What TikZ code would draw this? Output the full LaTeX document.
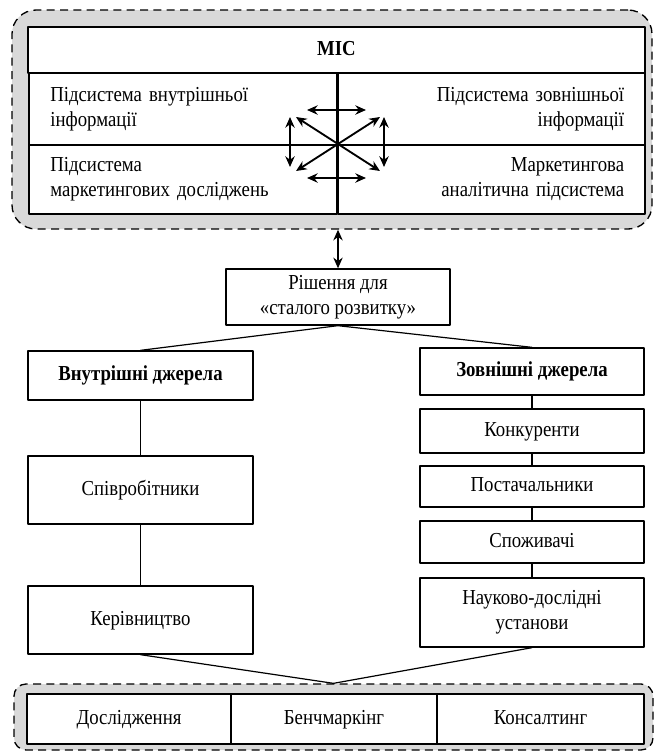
\documentclass[tikz,border=0pt]{standalone}
\usepackage{fontspec}
\setmainfont[FakeStretch=0.88]{Liberation Serif}
\usetikzlibrary{arrows.meta}

\begin{document}
\fontsize{16}{18.75}\selectfont
\begin{tikzpicture}[x=0.75pt,y=-0.75pt,line join=round,
    >={Stealth[length=8pt,width=7pt]},
    box/.style={draw,line width=1pt,fill=white,inner sep=0pt,align=center},
    oneline/.style={box,text height=11.5pt,text depth=4pt},
    cell/.style={box,inner xsep=16pt,text width=199pt},
    frame/.style={draw,line width=1pt,dash pattern=on 6pt off 4pt,fill=black!15},
    link/.style={line width=0.9pt},
    dblarrow/.style={line width=1.4pt,<->}]
  \useasboundingbox (0,0) rectangle (656,751);

  % MIS block
  \node[frame,rounded corners=18pt,minimum width=480pt,minimum height=164.25pt] (mis) at (332,119.5) {};
  \node[oneline,font=\bfseries,minimum width=462.75pt,minimum height=34.5pt] (mic) at (336.5,50) {МІС};
  \node[cell,align=left,minimum height=54pt] (intern) at (183,109) {Підсистема внутрішньої\\інформації};
  \node[cell,align=right,inner xsep=15.6pt,minimum height=54pt] (extern) at (491.5,109) {Підсистема зовнішньої\\інформації};
  \node[cell,align=left,minimum height=51.75pt] (research) at (183,179.5) {Підсистема\\маркетингових досліджень};
  \node[cell,align=right,inner xsep=15.6pt,minimum height=51.75pt] (analytic) at (491.5,179.5) {Маркетингова\\аналітична підсистема};

  \coordinate (hub) at (338,144);
  \draw[dblarrow] ([shift={(-42,-27)}]hub) -- ([shift={(42,27)}]hub);
  \draw[dblarrow] ([shift={(42,-27)}]hub) -- ([shift={(-42,27)}]hub);
  \draw[dblarrow] ([shift={(-31,-34)}]hub) -- ([shift={(28,-34)}]hub);
  \draw[dblarrow] ([shift={(-31,34)}]hub) -- ([shift={(28,34)}]hub);
  \draw[dblarrow] ([shift={(-48,-27)}]hub) -- ([shift={(-48,23)}]hub);
  \draw[dblarrow] ([shift={(46,-27)}]hub) -- ([shift={(46,23)}]hub);

  % sources
  \node[box,minimum width=168pt,minimum height=42pt] (decision) at (338,297) {Рішення для\\«сталого розвитку»};
  \node[oneline,font=\bfseries,minimum width=168.75pt,minimum height=36.75pt] (inner) at (140.5,375.5) {Внутрішні джерела};
  \node[oneline,font=\bfseries,minimum width=168pt,minimum height=35.25pt] (outer) at (532,371.5) {Зовнішні джерела};
  \node[oneline,minimum width=168.75pt,minimum height=51pt] (staff) at (140.5,490) {Співробітники};
  \node[oneline,minimum width=168.75pt,minimum height=51pt] (management) at (140.5,620) {Керівництво};
  \node[oneline,minimum width=168pt,minimum height=33pt] (rivals) at (532,431) {Конкуренти};
  \node[oneline,minimum width=168pt,minimum height=30.75pt] (suppliers) at (532,486.5) {Постачальники};
  \node[oneline,minimum width=168pt,minimum height=31.5pt] (consumers) at (532,542) {Споживачі};
  \node[box,minimum width=168pt,minimum height=51.75pt] (institutes) at (532,612.5) {Науково-дослідні\\установи};

  % results
  \node[frame,rounded corners=9pt,minimum width=479.25pt,minimum height=49.5pt] (res) at (333.5,717) {};
  \node[oneline,minimum width=153pt,minimum height=37.5pt] (study) at (129,719) {Дослідження};
  \node[oneline,minimum width=154.5pt,minimum height=37.5pt] (bench) at (334,719) {Бенчмаркінг};
  \node[oneline,minimum width=155.25pt,minimum height=37.5pt] (consult) at (540.5,719) {Консалтинг};

  \draw[dblarrow] (decision.north |- mis.south) -- (decision.north);
  \draw[link] (inner.north) -- (decision.south) -- (outer.north);
  \draw[link] (inner) -- (staff) -- (management);
  \draw[link] (outer) -- (rivals) -- (suppliers) -- (consumers) -- (institutes);
  \draw[link] (management.south) -- (res.north) -- (institutes.south);
\end{tikzpicture}
\end{document}
